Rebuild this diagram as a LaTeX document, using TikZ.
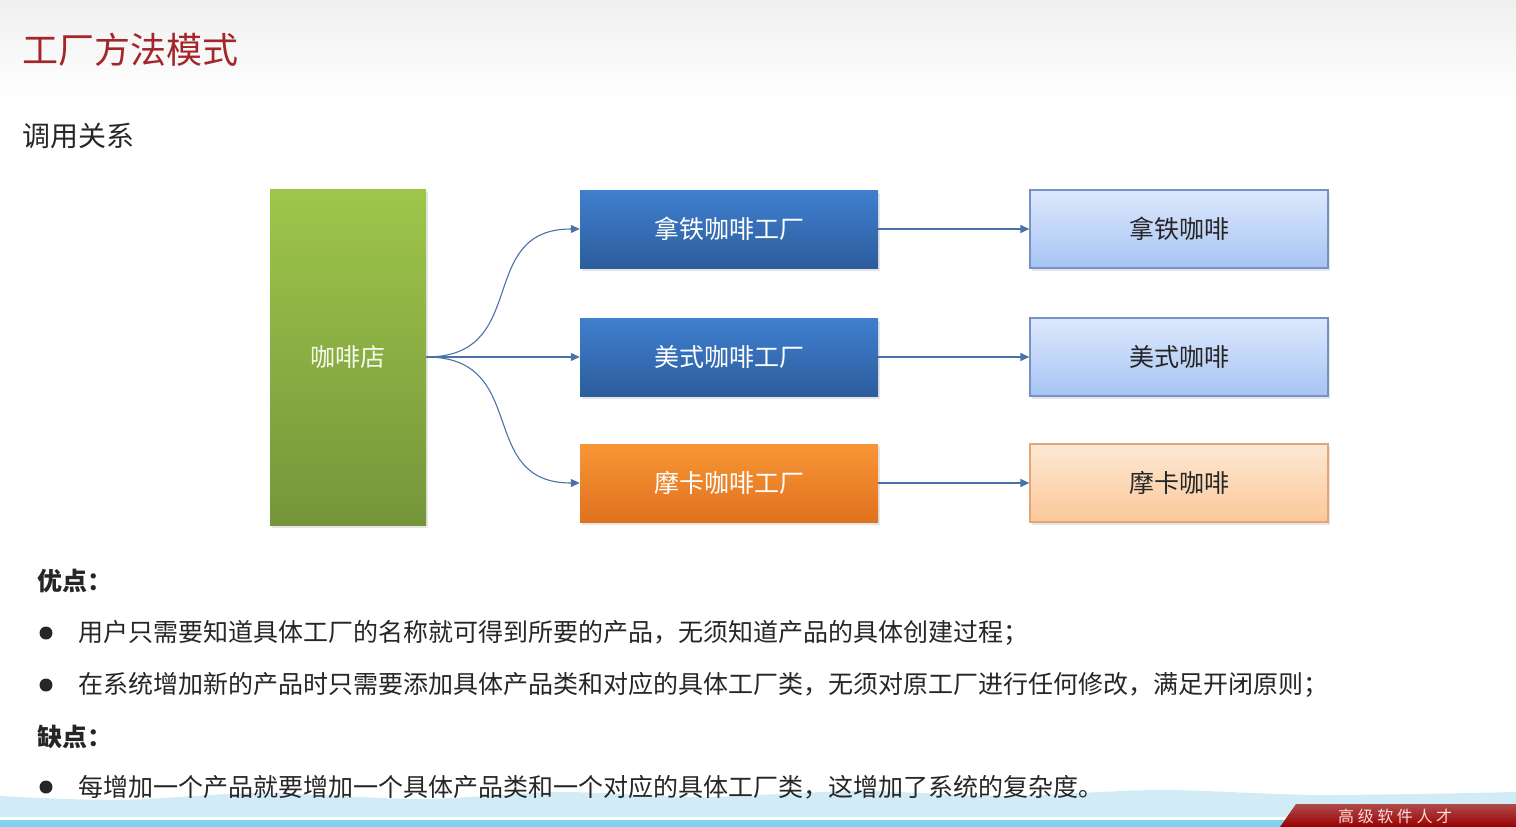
\documentclass[tikz,border=0pt]{standalone}
\usepackage{fontspec}
\setmainfont{Noto Sans CJK SC}
\usetikzlibrary{arrows.meta,shadows}
\definecolor{titleRed}{HTML}{A3262A}
\definecolor{bodyGray}{HTML}{262626}
\definecolor{linkBlue}{HTML}{4A72A8}
\definecolor{waveBlue}{HTML}{CDEAF6}
\definecolor{lineBlue}{HTML}{7FD3F0}
\definecolor{shopTop}{HTML}{9EC64B}
\definecolor{shopBot}{HTML}{76953A}
\definecolor{facTop}{HTML}{3F7FCF}
\definecolor{facBot}{HTML}{2C5D9C}
\definecolor{mochaTop}{HTML}{F89636}
\definecolor{mochaBot}{HTML}{E0711E}
\definecolor{cupTop}{HTML}{DCE8FC}
\definecolor{cupBot}{HTML}{A7C4F4}
\definecolor{cupLine}{HTML}{7592C4}
\definecolor{mochaCupTop}{HTML}{FDE8D4}
\definecolor{mochaCupBot}{HTML}{FBC898}
\definecolor{mochaCupLine}{HTML}{E2A679}

\begin{document}
\begin{tikzpicture}[x=1pt,y=-1pt,>={Triangle[length=9pt,width=8pt]},
  every node/.style={inner sep=0pt},
  box/.style={minimum width=298pt, minimum height=78pt, font=\fontsize{25}{30}\selectfont,
    drop shadow={shadow xshift=2pt,shadow yshift=-3pt,opacity=0.2}},
  factory/.style={box, text=white, top color=#1Top, bottom color=#1Bot},
  product/.style={box, text=bodyGray, draw=#1Line, line width=1.2pt,
    top color=#1Top, bottom color=#1Bot},
  link/.style={->, linkBlue, line width=1.1pt},
  body/.style={anchor=west, text=bodyGray, font=\fontsize{25}{30}\selectfont}]
  \useasboundingbox (0,0) rectangle (1516,827);
  % slide header
  \shade[top color=black!6, bottom color=white] (0,0) rectangle (1516,100);
  \node[anchor=west, text=titleRed, font=\fontsize{36}{40}\selectfont] (title) at (22,50) {工厂方法模式};
  \node[anchor=west, text=bodyGray, font=\fontsize{28}{32}\selectfont] (sub) at (22,136) {调用关系};
  % footer wave (behind the last line)
  \fill[waveBlue, opacity=0.9] plot[smooth] coordinates {(0,796) (120,800) (260,793) (420,799) (560,792) (700,797) (860,791) (1000,796) (1160,790) (1320,795) (1516,792)}
    -- (1516,817) -- (0,817) -- cycle;
  % coffee shop
  \node[box, minimum width=156pt, minimum height=336pt, text=white!90!shopTop,
    top color=shopTop, bottom color=shopBot] (shop) at (348,357) {咖啡店};
  % factories and coffees
  \node[factory=fac] (latteF) at (729,229) {拿铁咖啡工厂};
  \node[factory=fac] (americanoF) at (729,357) {美式咖啡工厂};
  \node[factory=mocha] (mochaF) at (729,483) {摩卡咖啡工厂};
  \node[product=cup] (latte) at (1179,229) {拿铁咖啡};
  \node[product=cup] (americano) at (1179,357) {美式咖啡};
  \node[product=mochaCup] (mocha) at (1179,483) {摩卡咖啡};
  % calls
  \draw[link] (shop.east) to[out=0,in=180,looseness=1.35] (latteF.west);
  \draw[link] (shop.east) -- (americanoF.west);
  \draw[link] (shop.east) to[out=0,in=180,looseness=1.35] (mochaF.west);
  \foreach \f/\p in {latteF/latte, americanoF/americano, mochaF/mocha}
    \draw[link] (\f) -- (\p);
  % pros and cons
  \node[body, font=\fontsize{25}{30}\selectfont\bfseries] (pros) at (37,581) {优点：};
  \node[body] (pro1) at (78,633) {用户只需要知道具体工厂的名称就可得到所要的产品，无须知道产品的具体创建过程；};
  \node[body] (pro2) at (78,685) {在系统增加新的产品时只需要添加具体产品类和对应的具体工厂类，无须对原工厂进行任何修改，满足开闭原则；};
  \node[body, font=\fontsize{25}{30}\selectfont\bfseries] (cons) at (37,737) {缺点：};
  \node[body] (con1) at (78,787) {每增加一个产品就要增加一个具体产品类和一个对应的具体工厂类，这增加了系统的复杂度。};
  \foreach \y in {633,685,787}
    \fill[bodyGray] (46,\y) circle (6.5pt);
  % footer line and banner
  \fill[lineBlue] (0,820) rectangle (1516,827);
  \shade[top color=red!55!black!70!white, bottom color=red!60!black] (1296,804) -- (1516,804) -- (1516,827) -- (1280,827) -- cycle;
  \node[anchor=west, text=white!85!red, font=\fontsize{16}{18}\selectfont] (banner) at (1338,816) {高 级 软 件 人 才};
\end{tikzpicture}
\end{document}
